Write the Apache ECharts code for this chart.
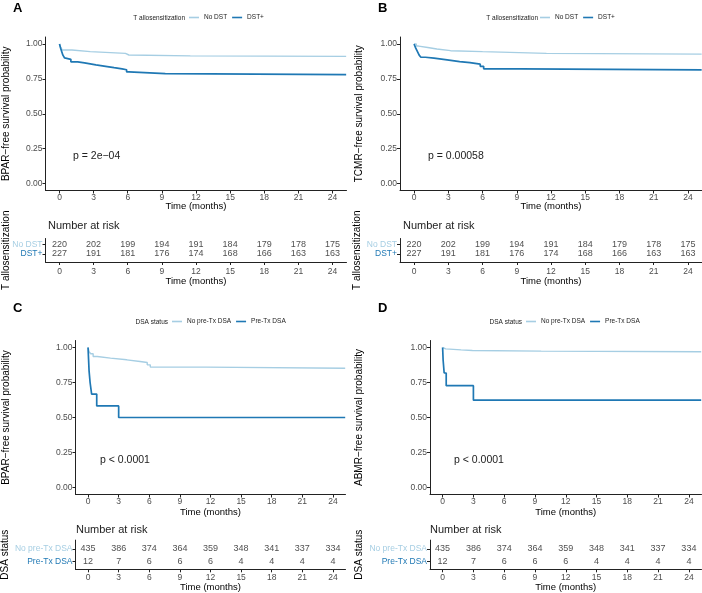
<!DOCTYPE html>
<html><head><meta charset="utf-8">
<script src="https://cdn.jsdelivr.net/npm/echarts@6/dist/echarts.min.js"></script>
<style>html,body{margin:0;padding:0;background:#fff}#c{width:702px;height:593px}</style>
</head><body><div id="c"></div>
<script>
// ---------- data ----------
const tickMonths = [0, 3, 6, 9, 12, 15, 18, 21, 24];
const survTicks = [0, 0.25, 0.5, 0.75, 1];

// Panel A: BPAR-free, T allosensitization
const aNoDstT = [0, 0.1, 0.25, 1.1, 2.7, 5.8, 6.1, 11.5, 25.2];
const aNoDstS = [1, 0.975, 0.957, 0.945, 0.933, 0.921, 0.915, 0.911, 0.911];
const aDstT = [0, 0.1, 0.2, 0.3, 0.45, 0.6, 1.0, 1.6, 2.2, 2.7, 3.2, 4.2, 4.8, 5.5, 5.9, 6.1, 9.3, 25.2];
const aDstS = [1, 0.97, 0.945, 0.92, 0.9, 0.89, 0.872, 0.865, 0.858, 0.85, 0.838, 0.83, 0.822, 0.815, 0.8, 0.787, 0.78, 0.78];

// Panel B: TCMR-free, T allosensitization
const bNoDstT = [0, 0.2, 0.4, 1.2, 2.0, 3.2, 6.0, 11.6, 25.2];
const bNoDstS = [1, 0.985, 0.975, 0.964, 0.952, 0.945, 0.933, 0.927, 0.927];
const bDstT = [0, 0.15, 0.3, 0.45, 0.6, 1.0, 1.75, 2.9, 4.0, 4.9, 5.8, 6.1, 9.3, 25.2];
const bDstS = [1, 0.97, 0.945, 0.92, 0.905, 0.898, 0.886, 0.874, 0.867, 0.855, 0.84, 0.822, 0.815, 0.815];

// Panel C: BPAR-free, DSA status
const cNoPreT = [0, 0.1, 0.26, 0.5, 0.9, 2.2, 3.8, 5.1, 5.8, 6.1, 11.6, 25.2];
const cNoPreS = [1, 0.97, 0.955, 0.936, 0.924, 0.912, 0.9, 0.893, 0.876, 0.86, 0.852, 0.852];
const cPreT = [0, 0.05, 0.1, 0.2, 0.35, 0.85, 3.0, 25.2];
const cPreS = [1, 0.917, 0.833, 0.75, 0.667, 0.583, 0.5, 0.5];

// Panel D: ABMR-free, DSA status
const dNoPreT = [0, 0.15, 0.3, 1.8, 2.9, 9.6, 25.2];
const dNoPreS = [1, 0.99, 0.983, 0.979, 0.974, 0.97, 0.967];
const dPreT = [0, 0.05, 0.15, 0.35, 3.0, 25.2];
const dPreS = [1, 0.909, 0.818, 0.727, 0.624, 0.624];

// Numbers at risk
const riskNoDst = [220, 202, 199, 194, 191, 184, 179, 178, 175];
const riskDst = [227, 191, 181, 176, 174, 168, 166, 163, 163];
const riskNoPre = [435, 386, 374, 364, 359, 348, 341, 337, 334];
const riskPre = [12, 7, 6, 6, 6, 4, 4, 4, 4];

const groupsT = ['No DST', 'DST+'];
const groupsDSA = ['No pre-Tx DSA', 'Pre-Tx DSA'];

// ---------- styling ----------
const LIGHT = '#a6cee3', DARK = '#1f78b4';
const FONT = 'Liberation Sans, Arial, Helvetica, sans-serif';
const AX = '#222', TICKTXT = '#4d4d4d';
const XMIN = -1.23, XMAX = 25.23;

const grids = [
  {left: 45.5, top: 37, width: 301, height: 153.5},     // 0 A main
  {left: 400, top: 37, width: 302, height: 153.5},      // 1 B main
  {left: 45.5, top: 238.5, width: 301, height: 23.5},   // 2 A risk
  {left: 400, top: 238.5, width: 302, height: 23.5},    // 3 B risk
  {left: 75.5, top: 340.5, width: 270, height: 154},    // 4 C main
  {left: 430, top: 340.5, width: 271.5, height: 154},   // 5 D main
  {left: 75.5, top: 540.1, width: 270, height: 29.2},   // 6 C risk
  {left: 430, top: 540.1, width: 271.5, height: 29.2}   // 7 D risk
].map(g => Object.assign({containLabel: false, outerBoundsMode: 'none', show: false}, g));

function xAxis(gi, gap, lblMargin) {
  return {
    type: 'value', gridIndex: gi, min: XMIN, max: XMAX,
    axisLine: {show: true, onZero: false, lineStyle: {color: AX, width: 1}},
    axisTick: {show: true, customValues: tickMonths, length: 3, lineStyle: {color: AX, width: 1}},
    axisLabel: {show: true, customValues: tickMonths, fontSize: 8.5, color: TICKTXT, margin: lblMargin, fontFamily: FONT},
    splitLine: {show: false},
    name: 'Time (months)', nameLocation: 'middle', nameGap: gap, nameMoveOverlap: false,
    nameTextStyle: {fontSize: 9.5, color: '#000', fontFamily: FONT}
  };
}
function yMain(gi, name, gap) {
  return {
    type: 'value', gridIndex: gi, min: -0.05, max: 1.05,
    axisLine: {show: true, onZero: false, lineStyle: {color: AX, width: 1}},
    axisTick: {show: true, customValues: survTicks, length: 3, lineStyle: {color: AX, width: 1}},
    axisLabel: {show: true, customValues: survTicks, formatter: v => v.toFixed(2), fontSize: 8.5, color: TICKTXT, margin: 3, fontFamily: FONT},
    splitLine: {show: false},
    name: name, nameLocation: 'middle', nameGap: gap, nameMoveOverlap: false,
    nameTextStyle: {fontSize: 10, color: '#000', fontFamily: FONT}
  };
}
function yRisk(gi, name, gap, groups, min, max) {
  return {
    type: 'value', gridIndex: gi, min: min, max: max,
    axisLine: {show: true, onZero: false, lineStyle: {color: AX, width: 1}},
    axisTick: {show: true, customValues: [1, 2], length: 3, lineStyle: {color: AX, width: 1}},
    axisLabel: {show: true, customValues: [1, 2], margin: 3, fontFamily: FONT,
      formatter: v => Math.round(v) === 2 ? '{a|' + groups[0] + '}' : '{b|' + groups[1] + '}',
      rich: {a: {color: LIGHT, fontSize: 8.5, fontFamily: FONT}, b: {color: DARK, fontSize: 8.5, fontFamily: FONT}}},
    splitLine: {show: false},
    name: name, nameLocation: 'middle', nameGap: gap, nameMoveOverlap: false,
    nameTextStyle: {fontSize: 10, color: '#000', fontFamily: FONT}
  };
}

const zip = (t, s) => t.map((v, i) => [v, s[i]]);
function km(name, ai, t, s, color, w) {
  return {type: 'line', name: name, xAxisIndex: ai, yAxisIndex: ai, data: zip(t, s), step: 'end',
    showSymbol: false, symbol: 'none', color: color, lineStyle: {color: color, width: w}, itemStyle: {color: color}};
}
function risk(ai, row, counts, id) {
  return {type: 'scatter', name: 'risk-' + id, xAxisIndex: ai, yAxisIndex: ai, symbolSize: 0,
    itemStyle: {color: 'rgba(0,0,0,0)'},
    data: tickMonths.map((t, i) => [t, row, counts[i]]),
    label: {show: true, position: 'inside', formatter: p => String(p.value[2]), fontSize: 9, color: '#222', fontFamily: FONT}};
}

function legend(left, top, names) {
  return {show: true, left: left, top: top, orient: 'horizontal', padding: 0, itemGap: 5,
    itemWidth: 10, itemHeight: 1.6, icon: 'rect', data: names,
    textStyle: {fontSize: 6.5, color: '#222', fontFamily: FONT}, selectedMode: false};
}
function txt(x, y, text, size, opts) {
  return Object.assign({type: 'text', x: x, y: y, style: Object.assign({text: text, fontSize: size, fontFamily: FONT, fill: '#000', textVerticalAlign: 'middle'}, opts || {})});
}

const option = {
  backgroundColor: '#fff',
  animation: false,
  grid: grids,
  xAxis: [xAxis(0, 11, 3), xAxis(1, 11, 3), xAxis(2, 14, 5), xAxis(3, 14, 5), xAxis(4, 12.5, 3), xAxis(5, 12.5, 3), xAxis(6, 13, 4), xAxis(7, 13, 4)],
  yAxis: [
    yMain(0, 'BPAR\u2212free survival probability', 34),
    yMain(1, 'TCMR\u2212free survival probability', 36),
    yRisk(2, 'T allosensitization', 34, groupsT, 0.15, 2.6),
    yRisk(3, 'T allosensitization', 38, groupsT, 0.15, 2.6),
    yMain(4, 'BPAR\u2212free survival probability', 64),
    yMain(5, 'ABMR\u2212free survival probability', 66),
    yRisk(6, 'DSA status', 65, groupsDSA, 0.4, 2.7),
    yRisk(7, 'DSA status', 66, groupsDSA, 0.4, 2.7)
  ],
  legend: [
    legend(189, 14, groupsT),
    legend(540, 14, groupsT),
    legend(172, 318, groupsDSA),
    legend(526, 318, groupsDSA)
  ],
  series: [
    km('No DST', 0, aNoDstT, aNoDstS, LIGHT, 1.4),
    km('DST+', 0, aDstT, aDstS, DARK, 1.7),
    km('No DST', 1, bNoDstT, bNoDstS, LIGHT, 1.4),
    km('DST+', 1, bDstT, bDstS, DARK, 1.7),
    km('No pre-Tx DSA', 4, cNoPreT, cNoPreS, LIGHT, 1.4),
    km('Pre-Tx DSA', 4, cPreT, cPreS, DARK, 1.7),
    km('No pre-Tx DSA', 5, dNoPreT, dNoPreS, LIGHT, 1.4),
    km('Pre-Tx DSA', 5, dPreT, dPreS, DARK, 1.7),
    risk(2, 2, riskNoDst, 'a1'), risk(2, 1, riskDst, 'a2'),
    risk(3, 2, riskNoDst, 'b1'), risk(3, 1, riskDst, 'b2'),
    risk(6, 2, riskNoPre, 'c1'), risk(6, 1, riskPre, 'c2'),
    risk(7, 2, riskNoPre, 'd1'), risk(7, 1, riskPre, 'd2')
  ],
  graphic: [
    txt(13, 8, 'A', 13, {fontWeight: 'bold'}),
    txt(378, 8, 'B', 13, {fontWeight: 'bold'}),
    txt(13, 308, 'C', 13, {fontWeight: 'bold'}),
    txt(378, 308, 'D', 13, {fontWeight: 'bold'}),
    txt(185, 18, 'T allosensitization', 6.5, {textAlign: 'right', fill: '#222'}),
    txt(538, 18, 'T allosensitization', 6.5, {textAlign: 'right', fill: '#222'}),
    txt(168, 322, 'DSA status', 6.5, {textAlign: 'right', fill: '#222'}),
    txt(522, 322, 'DSA status', 6.5, {textAlign: 'right', fill: '#222'}),
    txt(73, 156, 'p = 2e\u221204', 10.5, {fill: '#222'}),
    txt(428, 156, 'p = 0.00058', 10.5, {fill: '#222'}),
    txt(100, 460, 'p < 0.0001', 10.5, {fill: '#222'}),
    txt(454, 460, 'p < 0.0001', 10.5, {fill: '#222'}),
    txt(48, 226, 'Number at risk', 11, {fill: '#222'}),
    txt(403, 226, 'Number at risk', 11, {fill: '#222'}),
    txt(76, 530, 'Number at risk', 11, {fill: '#222'}),
    txt(430, 530, 'Number at risk', 11, {fill: '#222'})
  ]
};

const chart = echarts.init(document.getElementById('c'), null, {renderer: 'canvas'});
chart.setOption(option);
</script>
</body></html>
